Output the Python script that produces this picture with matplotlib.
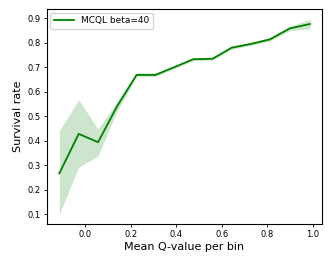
import matplotlib
matplotlib.use("Agg")
import matplotlib.pyplot as plt
import numpy as np

q_values = [-0.113, -0.028, 0.057, 0.140, 0.226, 0.309, 0.390, 0.475, 0.560, 0.643, 0.730, 0.811, 0.899, 0.987]
survival = [0.267, 0.428, 0.394, 0.540, 0.669, 0.669, 0.700, 0.733, 0.735, 0.780, 0.796, 0.814, 0.859, 0.877]
band_low = [0.100, 0.292, 0.338, 0.520, 0.661, 0.662, 0.694, 0.727, 0.729, 0.774, 0.790, 0.807, 0.850, 0.857]
band_high = [0.441, 0.567, 0.448, 0.560, 0.677, 0.676, 0.706, 0.739, 0.741, 0.786, 0.802, 0.821, 0.868, 0.896]
label = "MCQL beta=40"

fig = plt.figure(figsize=(3.32, 2.66), dpi=100)
ax = fig.add_axes([0.141, 0.158, 0.829, 0.808])
ax.fill_between(q_values, band_low, band_high, color="green", alpha=0.2, linewidth=0)
ax.plot(q_values, survival, color="green", linewidth=1.3, label=label)
ax.set_xlim(-0.168, 1.04)
ax.set_ylim(0.06, 0.938)
ax.set_xticks([0.0, 0.2, 0.4, 0.6, 0.8, 1.0])
ax.set_yticks([0.1, 0.2, 0.3, 0.4, 0.5, 0.6, 0.7, 0.8, 0.9])
ax.tick_params(labelsize=6, length=2.5, width=0.6, pad=2)
for s in ax.spines.values():
    s.set_linewidth(0.8)
ax.set_xlabel("Mean Q-value per bin", fontsize=8, labelpad=2)
ax.set_ylabel("Survival rate", fontsize=8, labelpad=3)
ax.legend(loc="upper left", fontsize=6.5, handlelength=2.2, borderpad=0.4, borderaxespad=0.4)
fig.savefig("out.png", dpi=100)
